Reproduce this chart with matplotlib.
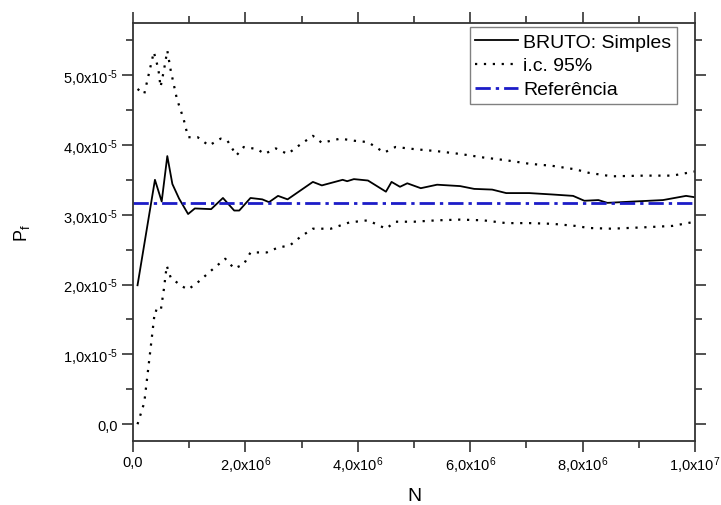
import numpy as np
import matplotlib
matplotlib.use('Agg')
import matplotlib.pyplot as plt
from matplotlib.ticker import FuncFormatter, MultipleLocator

plt.rcParams['font.family'] = ['Liberation Sans', 'DejaVu Sans']
plt.rcParams['mathtext.default'] = 'regular'

# estimativa (linha cheia)
n_est = [0.08, 0.39, 0.51, 0.61, 0.70, 0.82, 0.98, 1.10, 1.39, 1.60, 1.80, 1.89,
         2.09, 2.30, 2.42, 2.58, 2.75, 3.20, 3.36, 3.73, 3.81, 3.93, 4.18, 4.50,
         4.60, 4.75, 4.88, 5.12, 5.41, 5.82, 6.07, 6.39, 6.64, 7.05, 7.46, 7.83,
         8.03, 8.28, 8.44, 8.93, 9.43, 9.84, 10.0]
p_est = [1.99, 3.50, 3.19, 3.84, 3.44, 3.23, 3.01, 3.09, 3.08, 3.24, 3.06, 3.06,
         3.24, 3.22, 3.18, 3.27, 3.22, 3.47, 3.42, 3.50, 3.48, 3.51, 3.49, 3.33,
         3.47, 3.40, 3.45, 3.38, 3.43, 3.41, 3.37, 3.36, 3.31, 3.31, 3.29, 3.27,
         3.20, 3.21, 3.17, 3.19, 3.21, 3.27, 3.25]

# limite superior i.c. 95%
n_sup = [0.08, 0.20, 0.37, 0.45, 0.49, 0.55, 0.61, 0.67, 0.78, 0.90, 0.98, 1.15,
         1.35, 1.56, 1.68, 1.84, 1.97, 2.21, 2.34, 2.54, 2.75, 2.95, 3.20, 3.36,
         3.69, 3.93, 4.18, 4.47, 4.67, 5.00, 5.41, 5.82, 6.23, 6.64, 7.05, 7.46,
         7.87, 8.11, 8.52, 9.10, 9.60, 10.0]
p_sup = [4.80, 4.73, 5.33, 5.09, 4.83, 5.07, 5.35, 5.07, 4.66, 4.37, 4.11, 4.11,
         3.99, 4.09, 4.06, 3.85, 3.97, 3.94, 3.87, 3.95, 3.87, 3.99, 4.13, 4.03,
         4.09, 4.06, 4.04, 3.89, 3.97, 3.94, 3.91, 3.87, 3.82, 3.78, 3.73, 3.70,
         3.65, 3.60, 3.55, 3.56, 3.56, 3.62]

# limite inferior i.c. 95%
n_inf = [0.08, 0.20, 0.29, 0.39, 0.49, 0.55, 0.60, 0.67, 0.86, 0.98, 1.15, 1.39,
         1.64, 1.80, 1.97, 2.09, 2.38, 2.58, 2.79, 2.99, 3.20, 3.52, 3.85, 4.18,
         4.50, 4.67, 5.00, 5.41, 5.82, 6.23, 6.64, 7.05, 7.46, 7.87, 8.11, 8.52,
         9.10, 9.60, 10.0]
p_inf = [0.00, 0.31, 0.93, 1.63, 1.61, 1.94, 2.27, 2.10, 1.98, 1.93, 2.03, 2.20,
         2.37, 2.23, 2.29, 2.46, 2.46, 2.53, 2.56, 2.69, 2.80, 2.80, 2.89, 2.92,
         2.80, 2.90, 2.90, 2.92, 2.93, 2.92, 2.88, 2.88, 2.87, 2.84, 2.81, 2.80,
         2.82, 2.84, 2.90]

p_ref = 3.17e-5

fig = plt.figure(figsize=(7.21, 5.06), dpi=100)
ax = fig.add_axes([0.1845, 0.1265, 0.7795, 0.826])

ax.plot(np.array(n_est) * 1e6, np.array(p_est) * 1e-5, color='black', lw=1.3,
        label='BRUTO: Simples')
ax.plot(np.array(n_sup) * 1e6, np.array(p_sup) * 1e-5, color='black', lw=1.6,
        ls=(0, (1, 3)), label='i.c. 95%')
ax.plot(np.array(n_inf) * 1e6, np.array(p_inf) * 1e-5, color='black', lw=1.6,
        ls=(0, (1, 3)))
ax.axhline(p_ref, color='#1c1cc8', lw=2, ls=(0, (5.5, 1.8, 1.2, 1.8)),
           label='Referência')

ax.set_xlim(0, 1e7)
ax.set_ylim(-0.24e-5, 5.745e-5)


def fmt(v, pos):
    if v == 0:
        return '0,0'
    e = int(np.floor(np.log10(abs(v)) + 1e-9))
    m = v / 10 ** e
    sign = '\\text{-}' if e < 0 else ''
    return ('%.1f' % m).replace('.', ',') + 'x10$^{%s%d}$' % (sign, abs(e))


ax.xaxis.set_major_locator(MultipleLocator(2e6))
ax.xaxis.set_minor_locator(MultipleLocator(1e6))
ax.yaxis.set_major_locator(MultipleLocator(1e-5))
ax.yaxis.set_minor_locator(MultipleLocator(0.5e-5))
ax.xaxis.set_major_formatter(FuncFormatter(fmt))
ax.yaxis.set_major_formatter(FuncFormatter(fmt))

ax.tick_params(which='both', direction='out', top=True, right=True,
               labelsize=10.5, color='#333333', width=1.2)
ax.tick_params(which='major', length=8, pad=3)
ax.tick_params(which='minor', length=5)
ax.tick_params(axis='x', which='major', pad=2)
for s in ax.spines.values():
    s.set_linewidth(1.3)
    s.set_color('#333333')

ax.set_xlabel('N', fontsize=14, labelpad=8)
ax.set_ylabel('P$_f$', fontsize=13, labelpad=22)

leg = ax.legend(loc='upper right', fontsize=14, fancybox=False, framealpha=1,
                edgecolor='#808080', borderaxespad=0, handlelength=2.2,
                handletextpad=0.25, labelspacing=0.32, borderpad=0.3,
                bbox_to_anchor=(0.968, 0.990))
leg.get_frame().set_linewidth(1)

fig.savefig('out.png', dpi=100)
